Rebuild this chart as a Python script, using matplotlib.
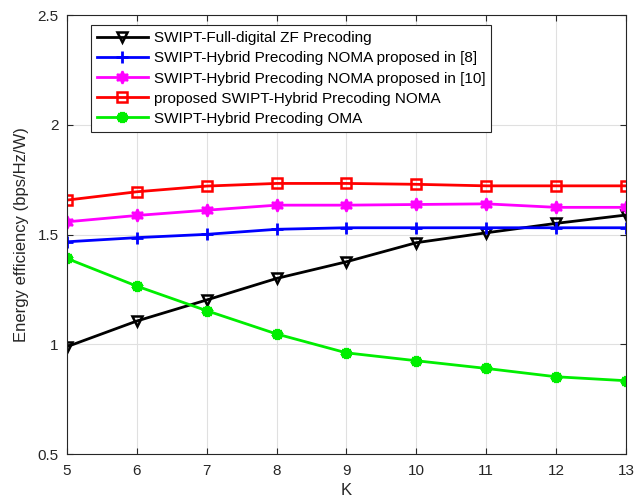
import numpy as np
import matplotlib
matplotlib.use('Agg')
import matplotlib.pyplot as plt

matplotlib.rcParams['font.family'] = ['Liberation Sans', 'DejaVu Sans']

# data
K = [5, 6, 7, 8, 9, 10, 11, 12, 13]
ee_full_zf = [0.989, 1.106, 1.202, 1.300, 1.376, 1.463, 1.508, 1.551, 1.589]
ee_noma_8 = [1.467, 1.486, 1.501, 1.524, 1.531, 1.531, 1.531, 1.531, 1.531]
ee_noma_10 = [1.558, 1.587, 1.611, 1.634, 1.634, 1.637, 1.640, 1.624, 1.624]
ee_proposed = [1.657, 1.695, 1.721, 1.733, 1.733, 1.729, 1.722, 1.722, 1.722]
ee_oma = [1.391, 1.265, 1.153, 1.047, 0.961, 0.925, 0.890, 0.852, 0.834]

labels = ['SWIPT-Full-digital ZF Precoding',
          'SWIPT-Hybrid Precoding NOMA proposed in [8]',
          'SWIPT-Hybrid Precoding NOMA proposed in [10]',
          'proposed SWIPT-Hybrid Precoding NOMA',
          'SWIPT-Hybrid Precoding OMA']

fig = plt.figure(figsize=(6.36, 5.04), dpi=100)
ax = fig.add_axes([0.1053, 0.0992, 0.8789, 0.8708])

ax.plot(K, ee_full_zf, color='k', lw=2, marker='v', ms=7.5, mfc='none', mew=1.8, label=labels[0])
ax.plot(K, ee_noma_8, color='#0000ff', lw=2, marker='+', ms=8, mew=2, label=labels[1])
ax.plot(K, ee_noma_10, color='#ff00ff', lw=2, marker=(6, 1, 0), ms=9, mew=1.5, label=labels[2])
ax.plot(K, ee_proposed, color='#ff0000', lw=2, marker='s', ms=6.5, mfc='none', mew=1.8, label=labels[3])
ax.plot(K, ee_oma, color='#00ee00', lw=2, marker=(6, 2, 0), ms=8, mew=3.5, label=labels[4])

ax.set_xlim(5, 13)
ax.set_ylim(0.5, 2.5)
ax.set_xticks(K)
ax.set_yticks([0.5, 1, 1.5, 2, 2.5])
ax.set_yticklabels(['0.5', '1', '1.5', '2', '2.5'])
ax.grid(True, color='#e0e0e0', lw=0.8)
ax.set_axisbelow(True)
ax.tick_params(direction='in', labelsize=11, colors='#262626', top=True, right=True, length=4)
ax.tick_params(axis='x', pad=7)
ax.tick_params(axis='y', pad=6)
for s in ax.spines.values():
    s.set_color('#262626')
    s.set_linewidth(0.8)

ax.set_xlabel('K', fontsize=12, color='#262626', labelpad=4)
ax.set_ylabel('Energy efficiency (bps/Hz/W)', fontsize=12, color='#262626', labelpad=6)

leg = ax.legend(loc='upper left', bbox_to_anchor=(0.043, 0.977), fontsize=11,
                frameon=True, fancybox=False, edgecolor='#262626', framealpha=1,
                handlelength=3.3, borderpad=0.4, labelspacing=0.4, handletextpad=0.4,
                borderaxespad=0)
leg.get_frame().set_linewidth(0.8)

fig.savefig('out.png', dpi=100)
